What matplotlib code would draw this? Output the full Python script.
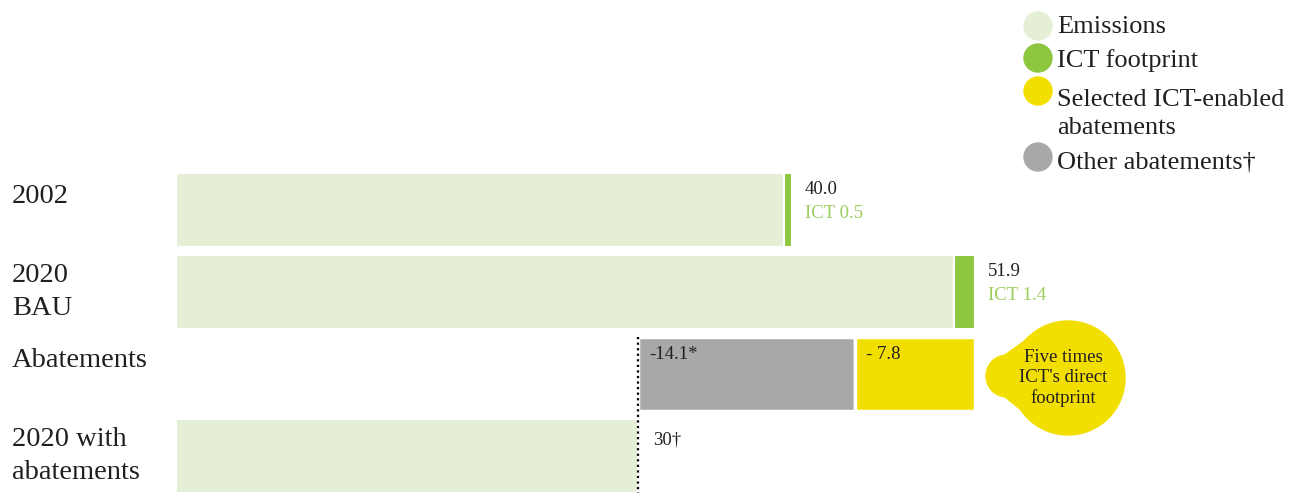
import matplotlib
matplotlib.use("Agg")
import matplotlib.pyplot as plt
from matplotlib.patches import Circle, Polygon
from matplotlib.transforms import IdentityTransform

plt.rcParams["font.family"] = ["Liberation Serif", "DejaVu Serif"]

# data (Gt CO2e)
categories = ["2002", "2020\nBAU", "Abatements", "2020 with\nabatements"]
totals = [40.0, 51.9, None, 30.0]
ict = [0.5, 1.4, None, None]
other_abate = 14.1
ict_abate = 7.8
abated_total = 30.0

c_emis = "#e4efd6"
c_ict = "#8dc63f"
c_yellow = "#f2df00"
c_grey = "#a7a8aa"
c_text = "#231f20"
c_ict_text = "#9ccc5e"

W, H = 1304, 493
fig = plt.figure(figsize=(W / 100, H / 100), dpi=100)
ax = fig.add_axes([0, 0, 1, 1])
px_x, px_y = 15.4, 82.0     # pixels per unit
x0, y0 = 176, 210           # pixel of x=0 and of row 0 centre
ax.set_xlim(-x0 / px_x, (W - x0) / px_x)
ax.set_ylim((H - y0) / px_y, -y0 / px_y)
ax.axis("off")

h = 0.91
for i, cat in enumerate(categories):
    dy = 0.0 if "\n" in cat else -0.16
    ax.text(-x0 / px_x + 12 / px_x, i + dy, cat, fontsize=20.5, color=c_text,
            va="center", ha="left", linespacing=1.42)

# 2002 and 2020 BAU: emissions + ICT footprint
for i in range(2):
    ax.barh(i, totals[i] - ict[i], height=h, color=c_emis, edgecolor="white", linewidth=1.5)
    ax.barh(i, ict[i], left=totals[i] - ict[i], height=h, color=c_ict,
            edgecolor="white", linewidth=1.5)
    ax.text(totals[i] + 0.85, i - h / 2 + 0.2, f"{totals[i]:.1f}", fontsize=13.5,
            color=c_text, va="center")
    ax.text(totals[i] + 0.85, i - h / 2 + 0.5, f"ICT {ict[i]:.1f}", fontsize=13.5,
            color=c_ict_text, va="center")

# abatements
ax.barh(2, other_abate, left=abated_total, height=h, color=c_grey,
        edgecolor="white", linewidth=2.5)
ax.barh(2, ict_abate, left=abated_total + other_abate, height=h, color=c_yellow,
        edgecolor="white", linewidth=2.5)
ax.text(abated_total + 0.7, 2 - h / 2 + 0.22, f"-{other_abate:.1f}*", fontsize=13.5,
        color=c_text, va="center")
ax.text(abated_total + other_abate + 0.7, 2 - h / 2 + 0.22, f"- {ict_abate:.1f}",
        fontsize=13.5, color=c_text, va="center")

# 2020 with abatements
ax.barh(3, abated_total, height=h, color=c_emis, edgecolor="white", linewidth=1.5)
ax.text(abated_total + 1.0, 3 - h / 2 + 0.26, f"{abated_total:.0f}\u2020", fontsize=13.5,
        color=c_text, va="center")
ax.vlines(abated_total, 2 - h / 2, (H - y0) / px_y, colors="black",
          linestyles=(0, (1, 1.5)), linewidth=1.6)

# callout bubble
tr = IdentityTransform()
fig.patches.append(Circle((1068, H - 378), 57, color=c_yellow, transform=tr))
fig.patches.append(Circle((1007, H - 376), 21, color=c_yellow, transform=tr))
fig.patches.append(Polygon([(1005, H - 355), (1030, H - 337), (1030, H - 417),
                            (1005, H - 397)], closed=True, color=c_yellow, transform=tr))
fig.text(1063 / W, 1 - 378 / H, "Five times\nICT's direct\nfootprint", fontsize=13.5,
         color=c_text, ha="center", va="center", linespacing=1.2)

# legend
legend_items = [("Emissions", c_emis, 26, 27),
                ("ICT footprint", c_ict, 58, 61),
                ("Selected ICT-enabled\nabatements", c_yellow, 91, 114),
                ("Other abatements\u2020", c_grey, 157, 162)]
for label, col, my, ty in legend_items:
    fig.patches.append(Circle((1038, H - my), 14, color=col, transform=tr))
    fig.text(1057 / W, 1 - ty / H, label, fontsize=19, color=c_text,
             va="center", ha="left", linespacing=1.3)

fig.savefig("out.png", dpi=100)
